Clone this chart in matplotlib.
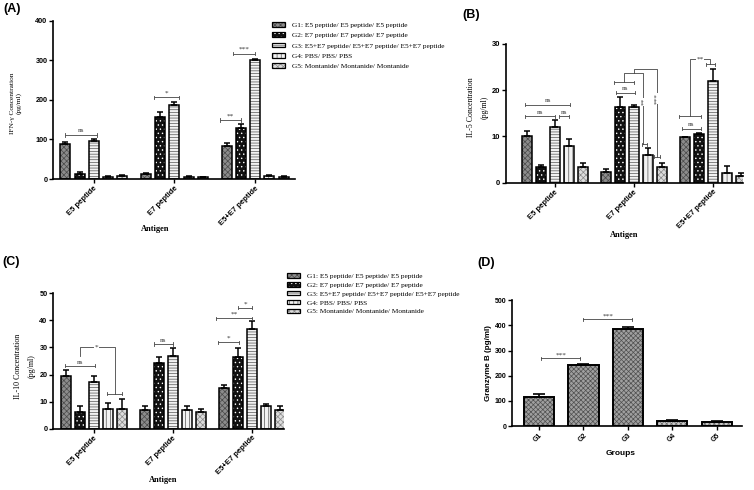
import matplotlib
matplotlib.use("Agg")
import matplotlib.pyplot as plt
from matplotlib.patches import Patch
from matplotlib.legend_handler import HandlerTuple
import numpy as np

plt.rcParams["hatch.linewidth"] = 0.5

# ---------------- data ----------------
antigens = ["E5 peptide", "E7 peptide", "E5+E7 peptide"]
group_labels = [
    "G1: E5 peptide/ E5 peptide/ E5 peptide",
    "G2: E7 peptide/ E7 peptide/ E7 peptide",
    "G3: E5+E7 peptide/ E5+E7 peptide/ E5+E7 peptide",
    "G4: PBS/ PBS/ PBS",
    "G5: Montanide/ Montanide/ Montanide",
]
# rows = antigen, columns = G1..G5
ifn_mean = [[88, 13, 97, 6, 7], [13, 157, 186, 6, 5], [83, 128, 300, 8, 6]]
ifn_err = [[5, 4, 3, 2, 2], [3, 12, 9, 1, 1], [7, 10, 3, 1, 1]]
il5_mean = [[10.1, 3.5, 12.0, 8.0, 3.5], [2.4, 16.4, 16.3, 6.0, 3.5], [9.8, 10.6, 21.9, 2.2, 1.4]]
il5_err = [[1.1, 0.4, 1.5, 1.4, 0.8], [0.6, 2.2, 0.4, 1.4, 0.8], [0.1, 0.2, 2.8, 1.4, 0.8]]
il10_mean = [[19.3, 6.3, 17.1, 7.2, 7.2], [6.8, 24.3, 27.0, 6.8, 6.3], [14.9, 26.3, 36.9, 8.4, 6.8]]
il10_err = [[2.3, 2.1, 2.4, 2.2, 3.6], [1.4, 2.2, 2.7, 1.4, 0.8], [1.2, 3.5, 2.7, 0.6, 1.4]]
gzb_groups = ["G1", "G2", "G3", "G4", "G5"]
gzb_mean = [117, 241, 385, 19, 15]
gzb_err = [12, 7, 8, 4, 3]

# significance brackets: (antigen, from bar, to bar, y, label)
ifn_sig = [(0, 0.0, 2.2, 111, "ns"), (1, 0.55, 2.3, 206, "*"),
           (2, -0.45, 1.0, 149, "**"), (2, 0.47, 2.0, 317, "***")]
il5_sig = [(0, -0.1, 3.1, 16.9, "ns"), (0, -0.1, 2.0, 14.4, "ns"), (0, 2.3, 3.05, 14.4, "ns"),
           (1, 0.74, 2.05, 19.5, "ns"), (1, 0.62, 2.0, 21.7, ""),
           (1, 2.57, 2.93, 8.3, ""), (1, 3.45, 3.88, 5.6, ""),
           (2, -0.24, 1.14, 11.7, "ns"), (2, -0.43, 1.14, 14.4, ""), (2, 1.48, 2.14, 25.6, "")]
# connectors: (antigen, [(bar, y), ...], label, (label bar, label y), rotation)
il5_conn = [(1, [(1.31, 21.7), (1.31, 23.7), (2.69, 23.7), (2.69, 8.3)], "**", (2.69, 17.5), 90),
            (1, [(2.0, 23.7), (2.0, 24.6), (3.64, 24.6), (3.64, 5.6)], "***", (3.64, 18.2), 90),
            (2, [(0.36, 14.4), (0.36, 26.8), (1.79, 26.8), (1.79, 25.6)], "**", (1.1, 26.8), 0)]
il10_sig = [(0, -0.05, 2.07, 23.2, "ns"), (0, 2.92, 4.05, 12.9, ""),
            (1, 0.65, 1.98, 31.3, "ns"),
            (2, -0.41, 1.08, 31.9, "*"), (2, -0.53, 2.0, 40.7, "**"), (2, 1.04, 2.0, 44.7, "*")]
il10_conn = [(0, [(1.04, 26.7), (1.04, 30.1), (3.52, 30.1), (3.52, 12.9)], "*", (2.2, 30.1), 0)]
gzb_sig = [(0.05, 0.92, 269, "***"), (1.0, 2.09, 424, "***")]

# ---------------- style ----------------
SANS = "Liberation Sans"
SERIF = "Liberation Serif"
STEP = 5.65
BW = 0.7
STYLES = [
    dict(face="#8c8c8c", hc="#4a4a4a", hatch="xxxxxx"),
    dict(face="#111111", hc="white", hatch="...."),
    dict(face="#f2f2f2", hc="#555555", hatch="------"),
    dict(face="#f2f2f2", hc="#555555", hatch="||||"),
    dict(face="#dcdcdc", hc="#8a8a8a", hatch="xxxxxx"),
]
D_STYLES = [
    dict(face="#a0a0a0", hc="#505050", hatch="xxxxxxx"),
    dict(face="#a0a0a0", hc="#505050", hatch="xxxxxxx"),
    dict(face="#a0a0a0", hc="#505050", hatch="xxxxxxx"),
    dict(face="#c8c8c8", hc="#6a6a6a", hatch="xxxxxxx"),
    dict(face="#c8c8c8", hc="#6a6a6a", hatch="xxxxxxx"),
]

W, H = 754, 490
fig = plt.figure(figsize=(7.54, 4.9), dpi=100)


def fx(px):
    return px / W


def fy(py):
    return 1 - py / H


def add_axes(l, t, r, b):
    return fig.add_axes([fx(l), fy(b), fx(r) - fx(l), fy(t) - fy(b)])


def hatch_bars(ax, x, h, st, width, edge_lw):
    ax.bar(x, h, width=width, color=st["face"], edgecolor=st["hc"],
           hatch=st["hatch"], linewidth=0, zorder=2)
    ax.bar(x, h, width=width, fill=False, edgecolor="black", linewidth=edge_lw, zorder=3)


def style_axes(ax, ylim, yticks, ysize):
    for s in ["top", "right"]:
        ax.spines[s].set_visible(False)
    for s in ["left", "bottom"]:
        ax.spines[s].set_linewidth(1.2)
    ax.set_ylim(*ylim)
    ax.set_yticks(yticks)
    ax.tick_params(axis="both", direction="out", length=3, width=1.0, pad=1)
    for lab in ax.get_yticklabels():
        lab.set_fontfamily(SANS)
        lab.set_fontweight("bold")
        lab.set_fontsize(ysize)


def draw_sig(ax, sig, conn, tick, ys):
    col = "#444444"
    for a, b1, b2, y, lab in sig:
        x1, x2 = a * STEP + b1, a * STEP + b2
        ax.plot([x1, x2], [y, y], color=col, lw=0.6, zorder=5, solid_capstyle="butt")
        ax.plot([x1, x1], [y - tick, y + tick], color=col, lw=0.6, zorder=5)
        ax.plot([x2, x2], [y - tick, y + tick], color=col, lw=0.6, zorder=5)
        if lab:
            ax.text((x1 + x2) / 2, y + ys, lab, ha="center", va="bottom",
                    fontsize=5.2, family=SERIF, color="#333333", zorder=6)
    for a, pts, lab, lpos, rot in conn:
        xs = [a * STEP + p[0] for p in pts]
        yv = [p[1] for p in pts]
        ax.plot(xs, yv, color=col, lw=0.6, zorder=5)
        ax.text(a * STEP + lpos[0], lpos[1], lab, ha="center", va="center", rotation=rot,
                fontsize=5.2, family=SERIF, color="#333333", zorder=6,
                bbox=dict(facecolor="white", edgecolor="none", pad=0.3))


def grouped(ax, mean, err, xlim, ylim, yticks, ysize, capsize=2.2):
    mean = np.asarray(mean, float)
    err = np.asarray(err, float)
    base = np.arange(len(antigens)) * STEP
    for g in range(5):
        x = base + g
        hatch_bars(ax, x, mean[:, g], STYLES[g], BW, 1.1)
        ax.errorbar(x, mean[:, g], yerr=[np.zeros(len(x)), err[:, g]], fmt="none",
                    ecolor="black", elinewidth=1.1, capsize=capsize, capthick=1.1, zorder=4)
    ax.set_xlim(*xlim)
    ax.set_xticks(base + 2)
    ax.set_xticklabels(antigens, rotation=45, ha="right", rotation_mode="anchor",
                       fontsize=5.5, fontweight="bold", family=SANS)
    style_axes(ax, ylim, yticks, ysize)


def legend_at(x, y, spacing):
    handles = []
    for st in STYLES:
        p1 = Patch(facecolor=st["face"], edgecolor=st["hc"], hatch=st["hatch"], linewidth=0)
        p2 = Patch(fill=False, edgecolor="black", linewidth=0.9)
        handles.append((p1, p2))
    fig.legend(handles, group_labels, handler_map={tuple: HandlerTuple(ndivide=1, pad=0)},
               loc="upper left", bbox_to_anchor=(fx(x), fy(y)), bbox_transform=fig.transFigure,
               frameon=False, prop=dict(family=SERIF, size=5.3), handlelength=1.7,
               handleheight=0.6, handletextpad=1.0, labelspacing=spacing,
               borderpad=0, borderaxespad=0)


# ---------------- (A) IFN-gamma ----------------
axA = add_axes(53, 20.7, 295, 179)
grouped(axA, ifn_mean, ifn_err, (-0.86, 2 * STEP + 4.8), (0, 400), range(0, 401, 100), 5.2)
draw_sig(axA, ifn_sig, [], 4, 4)
legend_at(272, 22, 0.6)
fig.text(fx(16), fy(103), "IFN-γ Concentration\n(pg/ml)", rotation=90, ha="center", va="center",
         family=SERIF, fontsize=5.3, linespacing=1.3)
fig.text(fx(155), fy(229), "Antigen", ha="center", va="center", family=SERIF,
         fontsize=6, fontweight="bold")
fig.text(fx(3), fy(9), "(A)", ha="left", va="center", fontsize=9, fontweight="bold", family=SANS)

# ---------------- (B) IL-5 ----------------
axB = add_axes(506, 44, 743, 182.7)
grouped(axB, il5_mean, il5_err, (-1.48, 2 * STEP + 4.15), (0, 30), range(0, 31, 10), 5.5)
draw_sig(axB, il5_sig, il5_conn, 0.35, 0.35)
fig.text(fx(478), fy(107), "IL-5 Concentration\n(pg/ml)", rotation=90, ha="center", va="center",
         family=SERIF, fontsize=5.6, linespacing=1.9)
fig.text(fx(624), fy(235), "Antigen", ha="center", va="center", family=SERIF,
         fontsize=6, fontweight="bold")
fig.text(fx(462), fy(15), "(B)", ha="left", va="center", fontsize=9, fontweight="bold", family=SANS)

# ---------------- (C) IL-10 ----------------
axC = add_axes(53, 293.3, 284, 428.7)
grouped(axC, il10_mean, il10_err, (-0.92, 2 * STEP + 4.3), (0, 50), range(0, 51, 10), 5.2)
draw_sig(axC, il10_sig, il10_conn, 0.6, 0.5)
legend_at(287, 273, 0.4)
fig.text(fx(25), fy(366), "IL-10 Concentration\n(pg/ml)", rotation=90, ha="center", va="center",
         family=SERIF, fontsize=5.8, linespacing=1.9)
fig.text(fx(163), fy(480), "Antigen", ha="center", va="center", family=SERIF,
         fontsize=6, fontweight="bold")
fig.text(fx(2), fy(262), "(C)", ha="left", va="center", fontsize=9, fontweight="bold", family=SANS)

# ---------------- (D) Granzyme B ----------------
axD = add_axes(512, 300.3, 742, 426)
xd = np.arange(len(gzb_groups))
for i in range(len(gzb_groups)):
    hatch_bars(axD, [xd[i]], [gzb_mean[i]], D_STYLES[i], 0.68, 1.4)
axD.errorbar(xd, gzb_mean, yerr=[np.zeros(len(xd)), gzb_err], fmt="none", ecolor="black",
             elinewidth=1.2, capsize=4, capthick=1.2, zorder=4)
axD.set_xlim(-0.61, 4.57)
axD.set_xticks(xd)
axD.set_xticklabels(gzb_groups, rotation=45, ha="right", rotation_mode="anchor",
                    fontsize=5.0, fontweight="bold", family=SANS)
style_axes(axD, (0, 500), range(0, 501, 100), 5.0)
for b1, b2, y, lab in gzb_sig:
    axD.plot([b1, b2], [y, y], color="#444444", lw=0.6, zorder=5)
    axD.plot([b1, b1], [y - 6, y + 6], color="#444444", lw=0.6, zorder=5)
    axD.plot([b2, b2], [y - 6, y + 6], color="#444444", lw=0.6, zorder=5)
    axD.text((b1 + b2) / 2, y + 4, lab, ha="center", va="bottom", fontsize=5.2,
             family=SERIF, color="#333333")
fig.text(fx(489), fy(363), "Granzyme B (pg/ml)", rotation=90, ha="center", va="center",
         family=SANS, fontsize=5.8, fontweight="bold")
fig.text(fx(621), fy(453), "Groups", ha="center", va="center", family=SANS,
         fontsize=6, fontweight="bold")
fig.text(fx(477), fy(263), "(D)", ha="left", va="center", fontsize=9, fontweight="bold", family=SANS)

fig.savefig("out.png", dpi=100)
